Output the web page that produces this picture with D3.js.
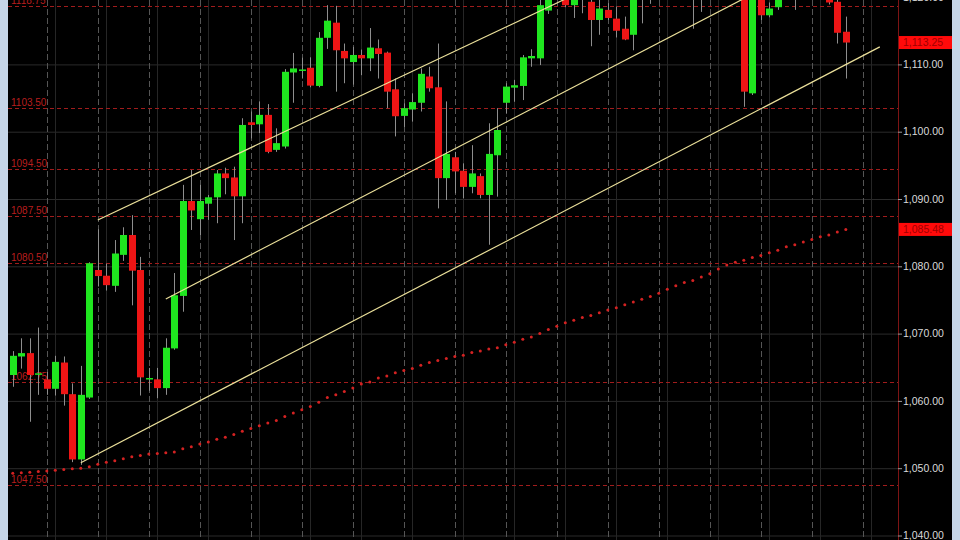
<!DOCTYPE html>
<html><head><meta charset="utf-8">
<script src="https://cdn.jsdelivr.net/npm/d3@7"></script>
<style>html,body{margin:0;padding:0;background:#000;}svg{display:block;}</style>
</head><body>
<svg id="c" width="960" height="540"></svg>
<script>
// ---- data ----
const opens  = [1063.85,1066.6,1067.1,1063.9,1063.2,1061.8,1065.7,1061.0,1051.3,1060.5,1079.45,1078.6,1077.1,1081.7,1084.65,1079.45,1063.2,1063.2,1061.9,1067.8,1075.6,1089.7,1087.0,1089.3,1090.25,1093.8,1093.2,1090.4,1101.4,1101.1,1102.5,1097.3,1097.8,1108.8,1109.15,1109.5,1106.8,1113.95,1116.2,1112.0,1110.35,1111.4,1110.9,1112.4,1111.75,1106.3,1102.35,1103.3,1104.3,1108.2,1106.6,1093.1,1096.2,1094.2,1091.8,1093.4,1090.6,1096.5,1104.3,1106.55,1106.8,1110.9,1110.9,1118.0,1122.5,1122.0,1118.8,1121.5,1119.3,1116.6,1118.1,1116.8,1115.3,1114.4,1121.0,1121.0,1122,1123,1122,1123.5,1122,1121,1123,1124,1122.5,1123.5,1121,1105.7,1121,1117.3,1118.5,1120.5,1121.5,1122,1123,1121.5,1122,1119.3,1114.85];
const highs  = [1067.4,1069.3,1069.3,1070.9,1064.3,1066.7,1066.6,1062.6,1065.2,1080.6,1085.5,1080.4,1083.9,1085.8,1087.6,1081.4,1064.9,1064.9,1069.3,1079.0,1092.1,1094.3,1092.1,1090.6,1094.3,1094.65,1094.8,1102.0,1103.0,1104.5,1104.1,1100.5,1109.3,1111.7,1111.0,1111.05,1114.8,1118.8,1118.7,1113.1,1112.6,1112.2,1115.4,1113.7,1111.9,1107.9,1104.2,1105.7,1109.4,1109.65,1113.1,1104.5,1097.0,1095.3,1098.0,1093.8,1101.25,1103.5,1107.2,1107.7,1111.4,1112.25,1120.0,1123.0,1124.5,1123.5,1122.5,1123.0,1121.0,1120.0,1119.1,1118.6,1117.1,1122.0,1123.0,1122.5,1124,1125,1124,1125,1123.5,1124,1125,1125.5,1124,1125,1122,1122,1122,1119.2,1121.5,1122.5,1123,1124,1124.5,1123,1123,1121,1117.1];
const lows   = [1062.1,1064.8,1056.9,1060.9,1060.9,1060.8,1059.3,1050.9,1050.5,1060.3,1077.0,1076.4,1076.2,1080.8,1074.2,1060.8,1061.5,1060.4,1060.9,1067.6,1073.25,1085.4,1084.65,1086.9,1086.4,1090.7,1083.9,1086.4,1099.0,1099.8,1096.8,1097.0,1097.5,1104.3,1107.9,1106.6,1106.6,1112.3,1105.95,1107.2,1107.0,1108.4,1109.0,1107.9,1103.5,1099.3,1100.7,1101.5,1103.0,1105.95,1088.6,1089.85,1090.85,1090.1,1090.85,1090.1,1083.2,1090.35,1102.75,1104.45,1104.7,1109.65,1109.9,1117.5,1120.5,1118.5,1116.9,1117.6,1112.7,1114.4,1116.6,1114.0,1113.6,1112.1,1116.1,1119.0,1120.5,1121,1120.5,1121,1115.3,1117.8,1121,1122,1120.5,1120.5,1103.7,1105.45,1116.6,1117.0,1118.1,1120,1118.1,1120.5,1121,1120.2,1118.9,1113.1,1107.9];
const closes = [1066.7,1067.1,1063.85,1064.1,1061.8,1065.8,1061.0,1051.3,1060.9,1080.45,1078.55,1077.2,1081.9,1084.65,1079.35,1063.5,1063.4,1061.9,1067.9,1075.7,1089.7,1088.3,1089.7,1090.25,1093.8,1093.1,1090.4,1101.0,1101.0,1102.5,1097.0,1098.3,1108.9,1109.4,1109.25,1106.85,1113.95,1116.5,1112.1,1110.9,1111.4,1110.9,1112.5,1111.55,1105.95,1102.3,1103.5,1104.4,1108.6,1106.45,1093.1,1096.7,1094.1,1091.8,1093.8,1090.6,1096.7,1100.25,1106.7,1106.9,1111.05,1111.25,1118.8,1122.0,1123.5,1118.8,1121.5,1120.5,1116.6,1118.3,1116.9,1115.0,1113.7,1121.0,1120.5,1121.8,1123,1122,1123.5,1122.5,1121,1123,1124,1122.5,1123.5,1121,1105.95,1121,1117.3,1118.3,1120.5,1121.5,1122,1123,1121.5,1122,1119.2,1114.7,1113.25];
const maValues = [1049.24,1049.33,1049.4,1049.5,1049.6,1049.7,1049.8,1049.9,1050.0,1050.2,1050.6,1050.9,1051.1,1051.4,1051.7,1051.9,1052.1,1052.2,1052.3,1052.4,1052.9,1053.2,1053.6,1053.9,1054.3,1054.6,1055.0,1055.5,1055.9,1056.3,1056.7,1057.1,1057.7,1058.2,1058.7,1059.15,1059.8,1060.5,1060.9,1061.4,1061.9,1062.5,1062.8,1063.4,1063.7,1064.2,1064.5,1064.8,1065.3,1065.7,1066.0,1066.3,1066.6,1066.8,1067.2,1067.4,1067.7,1067.9,1068.35,1068.7,1069.15,1069.5,1070.0,1070.6,1071.1,1071.6,1072.0,1072.4,1072.7,1073.1,1073.5,1073.85,1074.3,1074.7,1075.1,1075.5,1076.0,1076.6,1077.1,1077.6,1077.9,1078.4,1078.9,1079.6,1080.2,1080.6,1080.9,1081.3,1081.6,1082.0,1082.4,1082.9,1083.2,1083.6,1084.0,1084.4,1084.65,1085.1,1085.48];
// trend lines: [start index, start price, end index, end price]
const trendUpper  = [10, 1086.88, 70, 1122.7];
const trendMiddle = [18, 1075.14, 90, 1122.4];
const trendLower  = [8, 1050.82, 102, 1112.6];
const levelLines  = [1118.75, 1103.50, 1094.50, 1087.50, 1080.50, 1062.75, 1047.50];
const axisTicks   = [1040, 1050, 1060, 1070, 1080, 1090, 1100, 1110, 1120];
const priceTags   = [1113.25, 1085.48];
const dateGridIdx = d3.range(4, 105, 6);
const minorGridIdx = d3.range(5, 105, 6);

// ---- layout ----
const svg = d3.select("#c");
const plotL = 8, plotR = 898;
const x = d3.scaleLinear().domain([0, 98]).range([12.8, 845.8]);
const y = d3.scaleLinear().domain([1040, 1110]).range([535.5, 64.4]);

svg.append("rect").attr("width",960).attr("height",540).attr("fill","#000");
svg.append("defs").append("clipPath").attr("id","plot")
  .append("rect").attr("x",plotL).attr("y",0).attr("width",plotR-plotL).attr("height",540);
const g = svg.append("g").attr("clip-path","url(#plot)");

// grid
g.selectAll(".hg").data(axisTicks).join("line")
  .attr("x1",plotL).attr("x2",plotR).attr("y1",d=>y(d)+0.5).attr("y2",d=>y(d)+0.5)
  .attr("stroke","#2a2a2a").attr("stroke-width",1);
g.selectAll(".vm").data(minorGridIdx).join("line")
  .attr("x1",d=>Math.round(x(d))+0.5).attr("x2",d=>Math.round(x(d))+0.5).attr("y1",0).attr("y2",540)
  .attr("stroke","#262626").attr("stroke-width",1);
g.selectAll(".vd").data(dateGridIdx).join("line")
  .attr("x1",d=>Math.round(x(d))+0.5).attr("x2",d=>Math.round(x(d))+0.5).attr("y1",0).attr("y2",540)
  .attr("stroke","#555").attr("stroke-width",1).attr("stroke-dasharray","6,3");

// level lines + labels
g.selectAll(".lv").data(levelLines).join("line")
  .attr("x1",plotL).attr("x2",plotR).attr("y1",d=>Math.round(y(d))+0.5).attr("y2",d=>Math.round(y(d))+0.5)
  .attr("stroke","#a01c1c").attr("stroke-width",1).attr("stroke-dasharray","4,3");
g.selectAll(".lt").data(levelLines).join("text")
  .attr("x",11).attr("y",d=>y(d)-2)
  .attr("font-family","Liberation Sans, Arial, sans-serif").attr("font-size",10)
  .attr("fill","#b81e1e").text(d=>d3.format(".2f")(d));

// moving average dots
g.selectAll(".ma").data(maValues).join("circle")
  .attr("cx",(d,i)=>x(i)).attr("cy",d=>y(d)).attr("r",1.5).attr("fill","#d42222");

// candles
const idx = d3.range(opens.length);
const cg = g.append("g");
cg.selectAll(".wk").data(idx).join("line")
  .attr("x1",i=>Math.round(x(i))+0.5).attr("x2",i=>Math.round(x(i))+0.5)
  .attr("y1",i=>y(highs[i])).attr("y2",i=>y(lows[i]))
  .attr("stroke","#8e8e8e").attr("stroke-width",1);
cg.selectAll(".bd").data(idx).join("rect")
  .attr("x",i=>Math.round(x(i))-3).attr("width",7)
  .attr("y",i=>y(Math.max(opens[i],closes[i])))
  .attr("height",i=>Math.max(1.5, Math.abs(y(opens[i])-y(closes[i]))))
  .attr("fill",i=>closes[i]>=opens[i] ? "#1fe61f" : "#ee1515");

// trend lines
g.selectAll(".tl").data([trendUpper,trendMiddle,trendLower]).join("line")
  .attr("x1",d=>x(d[0])).attr("y1",d=>y(d[1])).attr("x2",d=>x(d[2])).attr("y2",d=>y(d[3]))
  .attr("stroke","#ebe09a").attr("stroke-width",1.2);

// right axis
svg.append("line").attr("x1",plotR+0.5).attr("x2",plotR+0.5).attr("y1",0).attr("y2",540)
  .attr("stroke","#7d1414").attr("stroke-width",1);
svg.selectAll(".tk").data(axisTicks).join("line")
  .attr("x1",plotR).attr("x2",plotR+4).attr("y1",d=>y(d)+0.5).attr("y2",d=>y(d)+0.5)
  .attr("stroke","#9a9a9a");
svg.selectAll(".al").data(axisTicks).join("text")
  .attr("x",903).attr("y",d=>y(d)).attr("dy","0.35em")
  .attr("font-family","Liberation Sans, Arial, sans-serif").attr("font-size",10.5)
  .attr("fill","#dadada").text(d=>d3.format(",.2f")(d));
const tags = svg.selectAll(".pt").data(priceTags).join("g");
tags.append("rect").attr("x",plotR+1).attr("width",53).attr("y",d=>y(d)-6.5).attr("height",13)
  .attr("fill","#ff0a0a");
tags.append("text").attr("x",903).attr("y",d=>y(d)).attr("dy","0.35em")
  .attr("font-family","Liberation Sans, Arial, sans-serif").attr("font-size",10.5)
  .attr("fill","#a00000").text(d=>d3.format(",.2f")(d));

// window frame
svg.append("rect").attr("x",0).attr("y",0).attr("width",8).attr("height",540).attr("fill","#c6d6e8");
svg.append("rect").attr("x",952).attr("y",0).attr("width",8).attr("height",540).attr("fill","#c6d6e8");
</script>
</body></html>
